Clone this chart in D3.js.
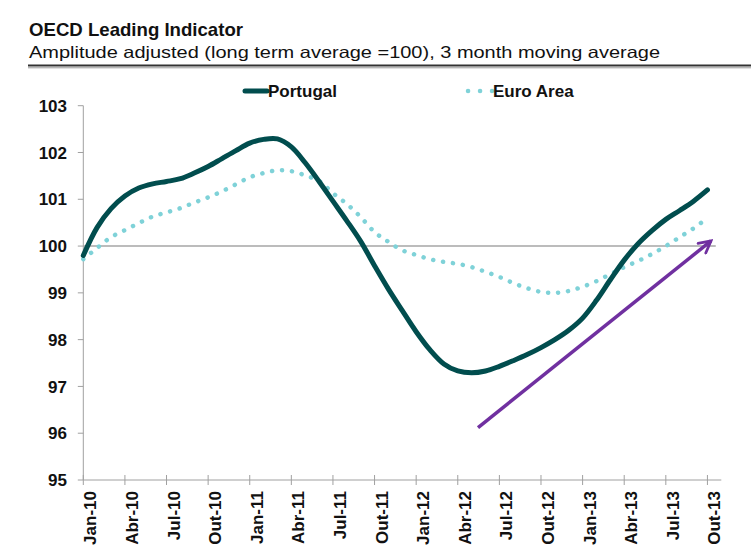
<!DOCTYPE html>
<html>
<head>
<meta charset="utf-8">
<script src="https://cdn.jsdelivr.net/npm/d3@7"></script>
<style>
  body { margin: 0; background: #fff; }
  svg { display: block; font-family: "Liberation Sans", Arial, sans-serif; }
</style>
</head>
<body>
<svg id="chart" width="751" height="555"></svg>
<script>
// Monthly data, Jan-10 .. Oct-13
const months = d3.range(46);
const portugal = [
  99.8, 100.4, 100.8, 101.07, 101.24, 101.33, 101.38, 101.44, 101.56, 101.7, 101.87, 102.04,
  102.2, 102.28, 102.29, 102.12, 101.78, 101.38, 100.96, 100.54, 100.1, 99.58, 99.08, 98.62,
  98.17, 97.78, 97.48, 97.33, 97.29, 97.33, 97.43, 97.55, 97.68, 97.83, 98.0, 98.2,
  98.46, 98.84, 99.28, 99.7, 100.05, 100.33, 100.57, 100.76, 100.96, 101.2
];
const euroArea = [
  99.72, 99.96, 100.19, 100.34, 100.49, 100.63, 100.72, 100.81, 100.93, 101.04, 101.17, 101.32,
  101.47, 101.56, 101.62, 101.6, 101.51, 101.39, 101.13, 100.9, 100.62, 100.3, 100.09, 99.91,
  99.81, 99.72, 99.66, 99.62, 99.55, 99.45, 99.34, 99.21, 99.1, 99.02, 99.0, 99.04,
  99.13, 99.25, 99.4, 99.55, 99.68, 99.83, 100.0, 100.19, 100.38, 100.6
];
const tickMonths = d3.range(0, 46, 3);
const tickLabels = ["Jan-10", "Abr-10", "Jul-10", "Out-10", "Jan-11", "Abr-11", "Jul-11", "Out-11",
  "Jan-12", "Abr-12", "Jul-12", "Out-12", "Jan-13", "Abr-13", "Jul-13", "Out-13"];
const yTicks = [95, 96, 97, 98, 99, 100, 101, 102, 103];
// trend arrow annotation: [month, value] start and end
const trendArrow = [[28.46, 96.12], [45.26, 100.11]];

const svg = d3.select("#chart");
const axisColour = "#a0a0a0";

const x = d3.scaleLinear().domain([0, 46]).range([83.3, 721.3]);
const y = d3.scaleLinear().domain([95, 103]).range([480, 105.7]);

// Title block
svg.append("text")
    .attr("x", 29).attr("y", 36)
    .attr("font-size", "18.5px").attr("font-weight", "bold").attr("fill", "#111")
    .attr("textLength", 214).attr("lengthAdjust", "spacingAndGlyphs")
    .text("OECD Leading Indicator");
svg.append("text")
    .attr("x", 29).attr("y", 58)
    .attr("font-size", "16.5px").attr("fill", "#111")
    .attr("textLength", 631).attr("lengthAdjust", "spacingAndGlyphs")
    .text("Amplitude adjusted (long term average =100), 3 month moving average");
svg.append("line")
    .attr("x1", 28).attr("x2", 751).attr("y1", 65.5).attr("y2", 65.5)
    .attr("stroke", "#333").attr("stroke-width", 2);
svg.append("line")
    .attr("x1", 28).attr("x2", 751).attr("y1", 67.8).attr("y2", 67.8)
    .attr("stroke", "#999").attr("stroke-width", 1);

// Y axis
const yAxis = svg.append("g");
yAxis.append("line")
    .attr("x1", x(0)).attr("x2", x(0)).attr("y1", y(103)).attr("y2", y(95))
    .attr("stroke", axisColour);
yAxis.selectAll(".ytick").data(yTicks).enter().append("line")
    .attr("x1", x(0) - 5.5).attr("x2", x(0))
    .attr("y1", d => y(d)).attr("y2", d => y(d))
    .attr("stroke", axisColour);
yAxis.selectAll(".ylab").data(yTicks).enter().append("text")
    .attr("x", 67).attr("y", d => y(d)).attr("dy", "0.36em")
    .attr("text-anchor", "end").attr("font-size", "17px").attr("font-weight", "bold").attr("fill", "#111")
    .text(d => d);

// 100 reference line
svg.append("line")
    .attr("x1", x(0)).attr("x2", x(45.6)).attr("y1", y(100)).attr("y2", y(100))
    .attr("stroke", "#a6a6a6").attr("stroke-width", 1.5);

// X axis
const xAxis = svg.append("g");
xAxis.append("line")
    .attr("x1", x(0)).attr("x2", x(46)).attr("y1", y(95)).attr("y2", y(95))
    .attr("stroke", axisColour);
xAxis.selectAll(".xtick").data(tickMonths).enter().append("line")
    .attr("x1", d => x(d)).attr("x2", d => x(d))
    .attr("y1", y(95) - 5).attr("y2", y(95) + 5)
    .attr("stroke", axisColour);
xAxis.selectAll(".xlab").data(tickMonths).enter().append("text")
    .attr("transform", d => `translate(${x(d) + 13},491) rotate(-90)`)
    .attr("text-anchor", "end").attr("font-size", "17px").attr("font-weight", "bold").attr("fill", "#111")
    .text((d, i) => tickLabels[i]);

// Series
const line = d3.line()
    .x((d, i) => x(months[i]))
    .y(d => y(d))
    .curve(d3.curveCatmullRom.alpha(0.5));

svg.append("path")
    .datum(euroArea)
    .attr("d", line)
    .attr("fill", "none")
    .attr("stroke", "#7fd2d8")
    .attr("stroke-width", 4.5)
    .attr("stroke-linecap", "round")
    .attr("stroke-dasharray", "0.1 9.9");

svg.append("path")
    .datum(portugal)
    .attr("d", line)
    .attr("fill", "none")
    .attr("stroke", "#014d4e")
    .attr("stroke-width", 5)
    .attr("stroke-linecap", "round")
    .attr("stroke-linejoin", "round");

// Trend arrow
svg.append("defs").append("marker")
    .attr("id", "arrowHead")
    .attr("viewBox", "0 0 10 10")
    .attr("refX", 8.6).attr("refY", 5)
    .attr("markerWidth", 4.4).attr("markerHeight", 4.4)
    .attr("markerUnits", "strokeWidth")
    .attr("orient", "auto")
    .append("path")
    .attr("d", "M1,1 L8.6,5 L1,9")
    .attr("fill", "none")
    .attr("stroke", "#7030a0")
    .attr("stroke-width", 1.8)
    .attr("stroke-linecap", "round")
    .attr("stroke-linejoin", "miter");

svg.append("line")
    .attr("x1", x(trendArrow[0][0])).attr("y1", y(trendArrow[0][1]))
    .attr("x2", x(trendArrow[1][0])).attr("y2", y(trendArrow[1][1]))
    .attr("stroke", "#7030a0")
    .attr("stroke-width", 3.5)
    .attr("marker-end", "url(#arrowHead)");

// Legend
const legend = svg.append("g");
legend.append("line")
    .attr("x1", 245).attr("x2", 267).attr("y1", 91).attr("y2", 91)
    .attr("stroke", "#014d4e").attr("stroke-width", 5).attr("stroke-linecap", "round");
legend.append("text")
    .attr("x", 268).attr("y", 97)
    .attr("font-size", "17px").attr("font-weight", "bold").attr("fill", "#111")
    .text("Portugal");
legend.append("line")
    .attr("x1", 468).attr("x2", 492).attr("y1", 91).attr("y2", 91)
    .attr("stroke", "#7fd2d8").attr("stroke-width", 4.5).attr("stroke-linecap", "round")
    .attr("stroke-dasharray", "0.1 11.9");
legend.append("text")
    .attr("x", 493).attr("y", 97)
    .attr("font-size", "17px").attr("font-weight", "bold").attr("fill", "#111")
    .text("Euro Area");
</script>
</body>
</html>
